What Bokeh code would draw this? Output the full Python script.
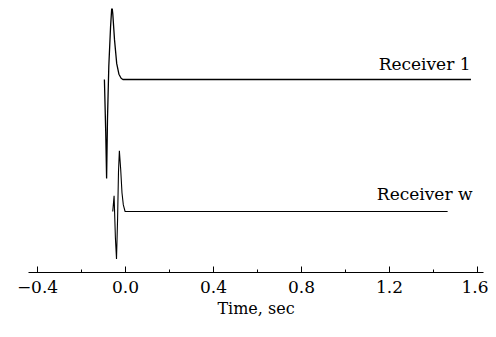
from bokeh.plotting import figure
from bokeh.models import Range1d, FixedTicker
from bokeh.core.properties import value
from bokeh.embed import file_html
from bokeh.resources import INLINE

# Receiver 1 trace (offset baseline 1.0)
r1_t = [-0.096, -0.090, -0.086, -0.082, -0.076, -0.068, -0.062, -0.058, -0.050, -0.040, -0.030, -0.020, -0.012, 1.570]
r1_a = [0.00, -0.40, -0.75, -0.30, 0.10, 0.40, 0.56, 0.50, 0.30, 0.12, 0.04, 0.01, 0.00, 0.00]

# Receiver w trace (offset baseline 0.0)
rw_t = [-0.058, -0.052, -0.046, -0.041, -0.036, -0.032, -0.028, -0.022, -0.016, -0.010, -0.002, 1.464]
rw_a = [0.00, 0.12, -0.20, -0.36, -0.05, 0.30, 0.46, 0.32, 0.14, 0.05, 0.00, 0.00]

offsets = [1.0, 0.0]
labels = ["Receiver 1", "Receiver w"]
label_t = [1.568, 1.577]
label_dy = [0.121, 0.136]

tick_values = [-0.4, 0.0, 0.4, 0.8, 1.2, 1.6]
tick_labels = ["\u22120.4", "0.0", "0.4", "0.8", "1.2", "1.6"]
minor_values = [-0.2, 0.2, 0.6, 1.0, 1.4]

FONT = "DejaVu Serif"

p = figure(width=488, height=329,
           x_range=Range1d(-0.441, 1.627), y_range=Range1d(-0.462, 1.538),
           output_backend="svg", toolbar_location=None,
           y_axis_location=None,
           min_border_left=28, min_border_right=5,
           min_border_top=8, min_border_bottom=57)

p.line(r1_t, [a + offsets[0] for a in r1_a], line_color="black", line_width=1.3)
p.line(rw_t, [a + offsets[1] for a in rw_a], line_color="black", line_width=1.1)

p.text(x=label_t, y=[o + d for o, d in zip(offsets, label_dy)], text=labels,
       text_align="right", text_baseline="alphabetic",
       text_font=value(FONT), text_font_size="17px", text_color="black")

p.grid.visible = False
p.outline_line_color = None
p.background_fill_color = "white"
p.border_fill_color = "white"

ax = p.xaxis[0]
ax.ticker = FixedTicker(ticks=tick_values, minor_ticks=minor_values)
ax.major_label_overrides = dict(zip(tick_values, tick_labels))
ax.axis_line_color = "black"
ax.axis_line_width = 1
ax.major_tick_in = 6
ax.major_tick_out = 0
ax.minor_tick_in = 3
ax.minor_tick_out = 0
ax.major_tick_line_color = "black"
ax.minor_tick_line_color = "black"
ax.major_label_standoff = 8
ax.major_label_text_font = FONT
ax.major_label_text_font_size = "17px"
ax.major_label_text_color = "black"
ax.axis_label = "Time, sec"
ax.axis_label_text_font = FONT
ax.axis_label_text_font_size = "16px"
ax.axis_label_text_font_style = "normal"
ax.axis_label_text_color = "black"
ax.axis_label_standoff = 3

open("out.html", "w").write(file_html(p, INLINE))
